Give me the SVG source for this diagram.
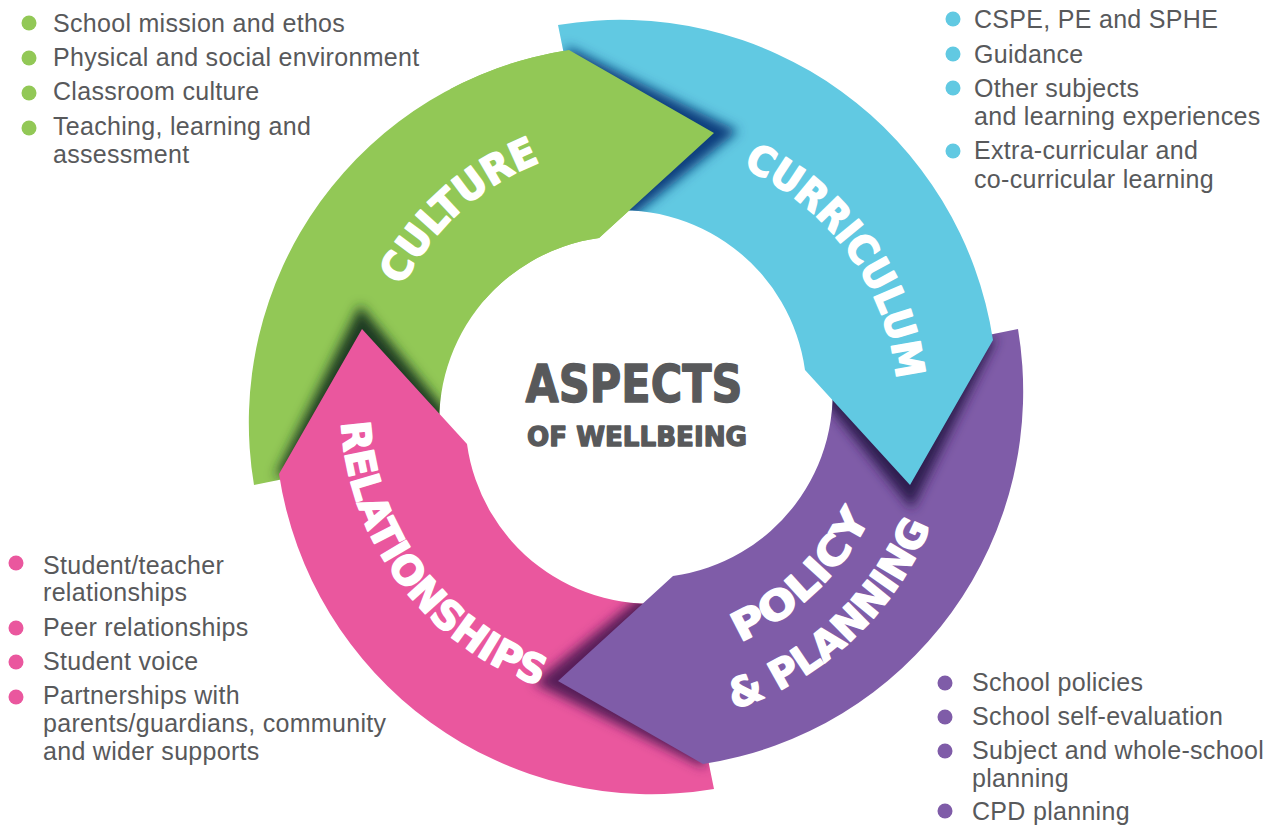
<svg xmlns="http://www.w3.org/2000/svg" width="1275" height="827" viewBox="0 0 1275 827">
<style>
.lst{font-family:"Liberation Sans",Arial,sans-serif;font-size:25px;fill:#58595b;letter-spacing:0.3px}
.lbl{font-family:"DejaVu Sans",sans-serif;font-weight:bold;font-size:40px;fill:#ffffff;stroke:#ffffff;stroke-width:1.6px;stroke-linejoin:round;text-anchor:middle}
.ctr{font-family:"DejaVu Sans",sans-serif;font-weight:bold;fill:#58595b;stroke:#58595b;stroke-width:1.4px;stroke-linejoin:round;text-anchor:middle}
.g{fill:#92c856}.b{fill:#61c9e2}.p{fill:#7f5ca8}.k{fill:#ea579e}
</style>
<defs>
<path id="arrow" d="M558 25 A377 377 0 0 1 993 340 L910 485 L805 370 A185 185 0 0 0 596 212 Z"/>
<path id="shade" d="M997 337 L912 509 L801 372 Z"/>
<filter id="soft" x="-30%" y="-30%" width="160%" height="160%"><feGaussianBlur stdDeviation="6"/></filter>
<clipPath id="onBlue"><use href="#arrow"/></clipPath>
<clipPath id="onPurple"><use href="#arrow" transform="rotate(90 636 407)"/></clipPath>
<clipPath id="onPink"><use href="#arrow" transform="rotate(180 636 407)"/></clipPath>
<clipPath id="onGreen"><use href="#arrow" transform="rotate(270 636 407)"/></clipPath>
<clipPath id="topPart"><rect x="450" y="0" width="400" height="300"/></clipPath>
<path id="pCulture" d="M378.8 461.7 A263 263 0 0 1 717.3 156.9"/>
<path id="pCurr" d="M608.6 146.4 A262 262 0 0 1 875.3 513.6"/>
<path id="pRel" d="M364.5 291.7 A295 295 0 0 0 672.0 699.8"/>
<path id="pPol" d="M565.0 655.0 A263 263 0 0 0 891.0 344.0"/>
<path id="pPlan" d="M543.0 711.0 A318 318 0 0 0 945.5 335.5"/>
</defs>

<g id="culture">
<use href="#arrow" class="g" transform="rotate(270 636 407)"/>
</g>
<g id="shadow-relationships" clip-path="url(#onGreen)">
<use href="#shade" transform="rotate(180 636 407)" fill="#1c3b22" filter="url(#soft)"/>
</g>
<g id="relationships">
<use href="#arrow" class="k" transform="rotate(180 636 407)"/>
</g>
<g id="shadow-policy" clip-path="url(#onPink)">
<use href="#shade" transform="rotate(90 636 407)" fill="#561c58" filter="url(#soft)"/>
</g>
<g id="policy-planning">
<use href="#arrow" class="p" transform="rotate(90 636 407)"/>
</g>
<g id="shadow-curriculum" clip-path="url(#onPurple)">
<use href="#shade" fill="#2f1d4f" filter="url(#soft)"/>
</g>
<g id="curriculum">
<use href="#arrow" class="b"/>
</g>
<g id="shadow-culture" clip-path="url(#onBlue)">
<use href="#shade" transform="rotate(270 636 407)" fill="#0b3d7d" filter="url(#soft)"/>
</g>
<g id="culture-head" clip-path="url(#topPart)">
<use href="#arrow" class="g" transform="rotate(270 636 407)"/>
</g>

<g id="labels">
<text class="lbl"><textPath href="#pCulture" startOffset="50%" textLength="190" lengthAdjust="spacingAndGlyphs">CULTURE</textPath></text>
<text class="lbl"><textPath href="#pCurr" startOffset="50%" textLength="274" lengthAdjust="spacingAndGlyphs">CURRICULUM</textPath></text>
<text class="lbl"><textPath href="#pRel" startOffset="50%" textLength="350" lengthAdjust="spacingAndGlyphs">RELATIONSHIPS</textPath></text>
<text class="lbl"><textPath href="#pPol" startOffset="50%" textLength="183" lengthAdjust="spacingAndGlyphs">POLICY</textPath></text>
<text class="lbl"><textPath href="#pPlan" startOffset="50%" textLength="277" lengthAdjust="spacingAndGlyphs">&amp; PLANNING</textPath></text>
</g>

<g id="center">
<text class="ctr" x="634" y="402" font-size="51" textLength="217" lengthAdjust="spacingAndGlyphs">ASPECTS</text>
<text class="ctr" x="637" y="446" font-size="27" textLength="220" lengthAdjust="spacingAndGlyphs">OF WELLBEING</text>
</g>

<g id="list-culture">
<circle class="g" cx="29" cy="23" r="7.5"/>
<circle class="g" cx="29" cy="58" r="7.5"/>
<circle class="g" cx="29" cy="93" r="7.5"/>
<circle class="g" cx="29" cy="128" r="7.5"/>
<text class="lst" x="53" y="32">School mission and ethos</text>
<text class="lst" x="53" y="66">Physical and social environment</text>
<text class="lst" x="53" y="100">Classroom culture</text>
<text class="lst" x="53" y="135">Teaching, learning and</text>
<text class="lst" x="53" y="163">assessment</text>
</g>

<g id="list-curriculum">
<circle class="b" cx="953" cy="19" r="7.5"/>
<circle class="b" cx="953" cy="54" r="7.5"/>
<circle class="b" cx="953" cy="88" r="7.5"/>
<circle class="b" cx="953" cy="151" r="7.5"/>
<text class="lst" x="974" y="28">CSPE, PE and SPHE</text>
<text class="lst" x="974" y="63">Guidance</text>
<text class="lst" x="974" y="97">Other subjects</text>
<text class="lst" x="974" y="125">and learning experiences</text>
<text class="lst" x="974" y="159">Extra-curricular and</text>
<text class="lst" x="974" y="188">co-curricular learning</text>
</g>

<g id="list-relationships">
<circle class="k" cx="16" cy="563" r="7.5"/>
<circle class="k" cx="16" cy="628" r="7.5"/>
<circle class="k" cx="16" cy="662" r="7.5"/>
<circle class="k" cx="16" cy="697" r="7.5"/>
<text class="lst" x="43" y="574">Student/teacher</text>
<text class="lst" x="43" y="601">relationships</text>
<text class="lst" x="43" y="636">Peer relationships</text>
<text class="lst" x="43" y="670">Student voice</text>
<text class="lst" x="43" y="704">Partnerships with</text>
<text class="lst" x="43" y="732">parents/guardians, community</text>
<text class="lst" x="43" y="760">and wider supports</text>
</g>

<g id="list-policy">
<circle class="p" cx="945" cy="683" r="7.5"/>
<circle class="p" cx="945" cy="717" r="7.5"/>
<circle class="p" cx="945" cy="751" r="7.5"/>
<circle class="p" cx="945" cy="811" r="7.5"/>
<text class="lst" x="972" y="691">School policies</text>
<text class="lst" x="972" y="725">School self-evaluation</text>
<text class="lst" x="972" y="759">Subject and whole-school</text>
<text class="lst" x="972" y="787">planning</text>
<text class="lst" x="972" y="820">CPD planning</text>
</g>
</svg>
